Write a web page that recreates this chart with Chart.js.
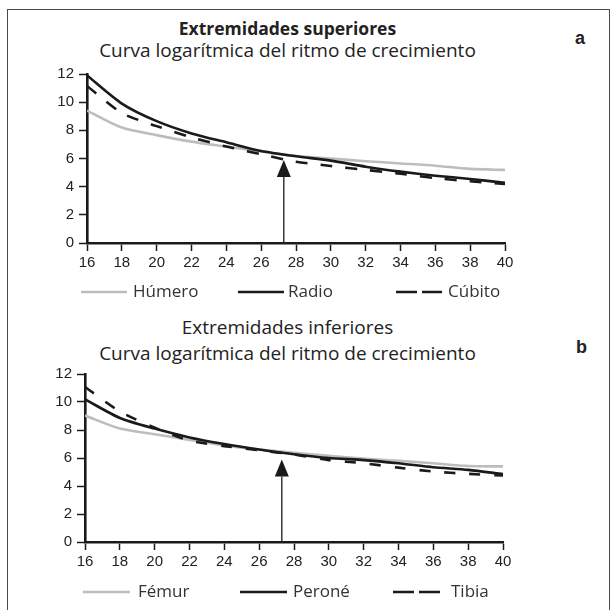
<!DOCTYPE html>
<html>
<head>
<meta charset="utf-8">
<script src="https://cdn.jsdelivr.net/npm/chart.js@4.4.1/dist/chart.umd.min.js"></script>
<style>
  html, body { margin: 0; padding: 0; background: #fff; }
  body { width: 613px; height: 610px; position: relative; overflow: hidden; font-family: "Open Sans", sans-serif; }
  .frame { position: absolute; left: 7px; top: 9px; width: 603px; height: 640px; border: 1.5px solid #4a4a4a; box-sizing: border-box; }
  .t { position: absolute; left: 0; width: 575px; text-align: center; color: #222; font-size: 19px; line-height: 22px; white-space: nowrap; }
  .b { font-weight: 700; font-size: 17.5px; }
  .panel { position: absolute; font-family: "Liberation Sans", Arial, sans-serif; font-weight: bold; font-size: 18px; line-height: 20px; color: #222; }
  .cv { position: absolute; left: 0; width: 613px; height: 250px; }
</style>
</head>
<body>
<div class="frame"></div>

<div class="t b" style="top:17px">Extremidades superiores</div>
<div class="t" style="top:39px">Curva logarítmica del ritmo de crecimiento</div>
<div class="panel" style="left:575px; top:28px">a</div>

<div class="t" style="top:316px">Extremidades inferiores</div>
<div class="t" style="top:342px">Curva logarítmica del ritmo de crecimiento</div>
<div class="panel" style="left:576px; top:337px">b</div>

<div class="cv" style="top:60px"><canvas id="upper" width="613" height="250"></canvas></div>
<div class="cv" style="top:360px"><canvas id="lower" width="613" height="250"></canvas></div>

<script>
// Age (x axis) and growth-rate values for each bone
const ages = [16, 18, 20, 22, 24, 26, 28, 30, 32, 34, 36, 38, 40];
const yTicks = [0, 2, 4, 6, 8, 10, 12];

const humero = [9.4, 8.2, 7.66, 7.2, 6.85, 6.5, 6.18, 6.0, 5.81, 5.65, 5.49, 5.26, 5.19];
const radio  = [11.9, 9.9, 8.65, 7.78, 7.15, 6.53, 6.16, 5.85, 5.42, 5.07, 4.78, 4.55, 4.27];
const cubito = [11.15, 9.23, 8.3, 7.5, 6.85, 6.3, 5.77, 5.47, 5.19, 4.92, 4.61, 4.38, 4.2];

const femur  = [9.03, 8.1, 7.7, 7.29, 6.9, 6.61, 6.38, 6.15, 5.96, 5.8, 5.62, 5.43, 5.4];
const perone = [10.19, 8.86, 8.1, 7.47, 7.0, 6.61, 6.27, 6.0, 5.85, 5.62, 5.34, 5.15, 4.85];
const tibia  = [11.07, 9.33, 8.17, 7.25, 6.85, 6.55, 6.24, 5.85, 5.62, 5.31, 5.03, 4.87, 4.75];

// Arrow marker: age where it sits and the value its tip reaches
const arrowUpper = [27.3, 5.9];
const arrowLower = [27.3, 5.9];

const GREY = '#bdbdbd';
const DARK = '#1a1a1a';

// Legend drawn as line samples followed by the series name
const lineLegend = {
  id: 'lineLegend',
  afterDraw(chart, args, opts) {
    const { ctx, chartArea } = chart;
    const y = chartArea.bottom + opts.offsetY;
    chart.data.datasets.forEach((ds, i) => {
      const x0 = opts.lineX[i];
      ctx.save();
      ctx.strokeStyle = ds.borderColor;
      ctx.lineWidth = ds.borderWidth;
      ctx.setLineDash(ds.legendDash || []);
      ctx.beginPath();
      ctx.moveTo(x0, y);
      ctx.lineTo(x0 + opts.lineW, y);
      ctx.stroke();
      ctx.setLineDash([]);
      ctx.fillStyle = '#333';
      ctx.font = opts.font;
      ctx.textBaseline = 'middle';
      ctx.fillText(ds.label, opts.textX[i], y);
      ctx.restore();
    });
  }
};

// Vertical arrow rising from the x axis
const arrowMark = {
  id: 'arrowMark',
  afterDatasetsDraw(chart, args, opts) {
    const { ctx, scales: { x, y } } = chart;
    const px = x.getPixelForValue(opts.at[0]);
    const tip = y.getPixelForValue(opts.at[1]);
    const base = y.getPixelForValue(0);
    ctx.save();
    ctx.strokeStyle = DARK;
    ctx.fillStyle = DARK;
    ctx.lineWidth = 1.3;
    ctx.beginPath();
    ctx.moveTo(px, base);
    ctx.lineTo(px, tip + opts.headLen);
    ctx.stroke();
    ctx.beginPath();
    ctx.moveTo(px, tip);
    ctx.lineTo(px - opts.headHalf, tip + opts.headLen);
    ctx.lineTo(px + opts.headHalf, tip + opts.headLen);
    ctx.closePath();
    ctx.fill();
    ctx.restore();
  }
};

function series(label, values, color, dash, legendDash, order) {
  return {
    label,
    data: ages.map((a, i) => ({ x: a, y: values[i] })),
    borderColor: color,
    borderWidth: 2.6,
    borderDash: dash,
    legendDash,
    pointRadius: 0,
    tension: 0.25,
    fill: false,
    order
  };
}

function axisCommon() {
  return {
    ticks: {
      stepSize: 2,
      color: '#222',
      font: { family: 'Liberation Sans', size: 15 },
      maxRotation: 0,
      autoSkip: false
    },
    grid: { drawOnChartArea: false, drawTicks: true, tickLength: 8, tickColor: DARK, tickWidth: 1.5 },
    border: { display: true, color: DARK, width: 2.6 }
  };
}

function makeChart(id, datasets, pad, legend, arrow) {
  const xAxis = axisCommon();
  xAxis.type = 'linear';
  xAxis.min = ages[0];
  xAxis.max = ages[ages.length - 1];
  xAxis.ticks.padding = 3;
  xAxis.afterFit = s => { s.height = 30; };

  const yAxis = axisCommon();
  yAxis.min = yTicks[0];
  yAxis.max = yTicks[yTicks.length - 1];
  yAxis.ticks.padding = 5;
  yAxis.afterFit = s => { s.width = 45; };

  return new Chart(document.getElementById(id), {
    type: 'line',
    data: { datasets },
    options: {
      responsive: false,
      animation: false,
      layout: { padding: pad },
      scales: { x: xAxis, y: yAxis },
      plugins: {
        legend: { display: false },
        tooltip: { enabled: false },
        title: { display: false },
        lineLegend: legend,
        arrowMark: { at: arrow, headLen: 17, headHalf: 7 }
      }
    },
    plugins: [lineLegend, arrowMark]
  });
}

makeChart('upper', [
  series('Húmero', humero, GREY, [], [], 3),
  series('Radio', radio, DARK, [], [], 2),
  series('Cúbito', cubito, DARK, [12, 13], [21, 5], 1)
], { left: 42, right: 108, top: 10, bottom: 37 },
{ offsetY: 49, lineW: 46, lineX: [81, 238, 396], textX: [133, 288, 448], font: '17px "Open Sans"' },
arrowUpper);

makeChart('lower', [
  series('Fémur', femur, GREY, [], [], 3),
  series('Peroné', perone, DARK, [], [], 2),
  series('Tibia', tibia, DARK, [11, 14], [21, 5], 1)
], { left: 40, right: 110, top: 10, bottom: 38 },
{ offsetY: 50, lineW: 47, lineX: [83, 240, 393], textX: [138, 293, 451], font: '17px "Open Sans"' },
arrowLower);
</script>
</body>
</html>
